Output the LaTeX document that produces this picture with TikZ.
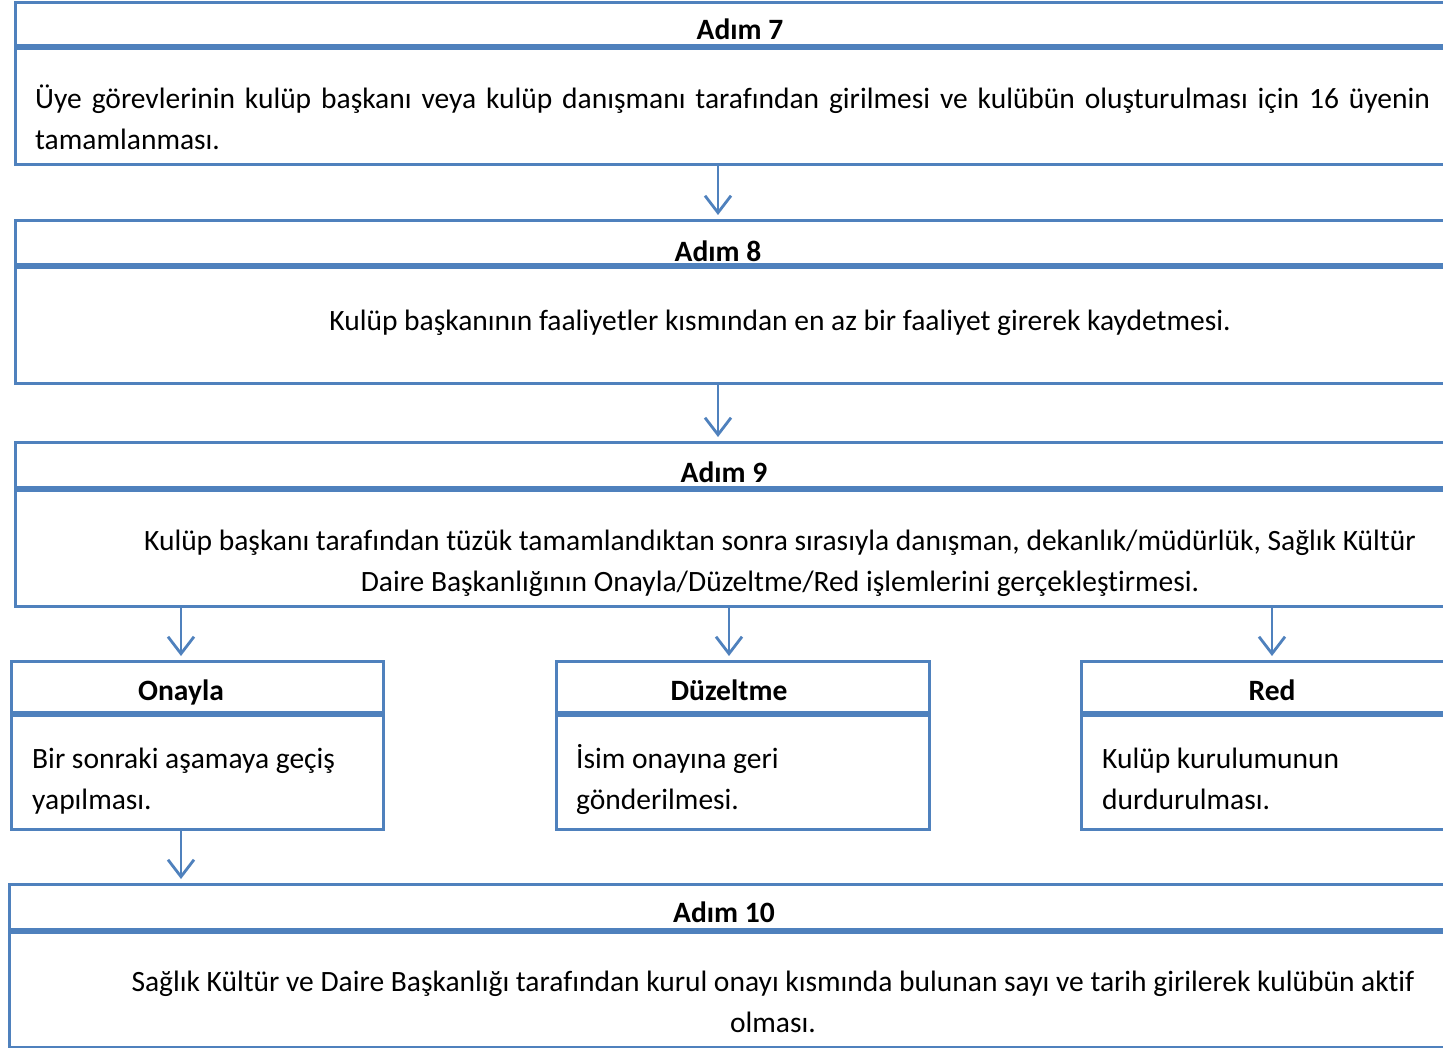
\documentclass[tikz,border=0pt]{standalone}
\usepackage{fontspec}
\setmainfont{Carlito}[Ligatures=NoCommon]
\usetikzlibrary{arrows.meta}
\definecolor{bl}{HTML}{4F81BD}
\begin{document}
\begin{tikzpicture}[x=1pt,y=-1pt,
  every node/.style={font=\fontsize{29.5}{41}\selectfont, inner sep=0pt},
  boxed/.style={draw=bl, line width=2.8pt, rectangle, anchor=north west, fill=white},
  head/.style={font=\fontsize{29.5}{41}\selectfont\bfseries, anchor=base},
  divider/.style={draw=bl, line width=5.5pt},
  arr/.style={draw=bl, line width=2.8pt, shorten >=4pt, -{Straight Barb[length=17pt,width=26pt,line width=2.8pt]}}
]
\useasboundingbox (0,0) rectangle (1443,1048);
\clip (0,0) rectangle (1443,1048);
\fill[white] (0,0) rectangle (1443,1048);
% boxes
\node[boxed, minimum width=1460pt, minimum height=162pt] (b7) at (14,1) {};
\node[boxed, minimum width=1460pt, minimum height=163pt] (b8) at (14,219) {};
\node[boxed, minimum width=1460pt, minimum height=164pt] (b9) at (14,441) {};
\node[boxed, minimum width=372pt, minimum height=168pt] (bo) at (10,660) {};
\node[boxed, minimum width=373pt, minimum height=168pt] (bd) at (555,660) {};
\node[boxed, minimum width=380pt, minimum height=168pt] (br) at (1080,660) {};
\node[boxed, minimum width=1466pt, minimum height=163pt] (b10) at (8,883) {};
% dividers
\draw[divider] (b7.north west |- 0,47) -- (b7.north east |- 0,47);
\draw[divider] (b8.north west |- 0,266) -- (b8.north east |- 0,266);
\draw[divider] (b9.north west |- 0,489) -- (b9.north east |- 0,489);
\draw[divider] (bo.north west |- 0,714) -- (bo.north east |- 0,714);
\draw[divider] (bd.north west |- 0,714) -- (bd.north east |- 0,714);
\draw[divider] (br.north west |- 0,714) -- (br.north east |- 0,714);
\draw[divider] (b10.north west |- 0,931) -- (b10.north east |- 0,931);
% headers
\node[head] (h7) at (740,40) {Adım 7};
\node[head] (h8) at (718,262) {Adım 8};
\node[head] (h9) at (724,482) {Adım 9};
\node[head] (h10) at (724,922) {Adım 10};
\node[head] (ho) at (181,700) {Onayla};
\node[head] (hd) at (729,700) {Düzeltme};
\node[head] (hr) at (1272,700) {Red};
% bodies
\node[align=left, anchor=north west] (t7) at (35,85)
  {\makebox[1395pt][s]{Üye görevlerinin kulüp başkanı veya kulüp danışmanı tarafından girilmesi ve kulübün oluşturulması için 16 üyenin}\\tamamlanması.};
\node (t8) at (780,323) {Kulüp başkanının faaliyetler kısmından en az bir faaliyet girerek kaydetmesi.};
\node[align=center, anchor=north] (t9) at (780,530)
  {Kulüp başkanı tarafından tüzük tamamlandıktan sonra sırasıyla danışman, dekanlık/müdürlük, Sağlık Kültür\\Daire Başkanlığının Onayla/Düzeltme/Red işlemlerini gerçekleştirmesi.};
\node[align=left, anchor=north west] (to) at (32,748) {Bir sonraki aşamaya geçiş\\yapılması.};
\node[align=left, anchor=north west] (td) at (576,744) {İsim onayına geri\\gönderilmesi.};
\node[align=left, anchor=north west] (tr) at (1102,748) {Kulüp kurulumunun\\durdurulması.};
\node[align=center, anchor=north] (t10) at (773,971)
  {Sağlık Kültür ve Daire Başkanlığı tarafından kurul onayı kısmında bulunan sayı ve tarih girilerek kulübün aktif\\olması.};
% arrows
\draw[arr] (b7.south -| h8) -- (b8.north -| h8);
\draw[arr] (b8.south -| h8) -- (b9.north -| h8);
\draw[arr] (b9.south -| ho) -- (bo.north -| ho);
\draw[arr] (b9.south -| hd) -- (bd.north -| hd);
\draw[arr] (b9.south -| hr) -- (br.north -| hr);
\draw[arr] (bo.south -| ho) -- (b10.north -| ho);
\end{tikzpicture}
\end{document}
